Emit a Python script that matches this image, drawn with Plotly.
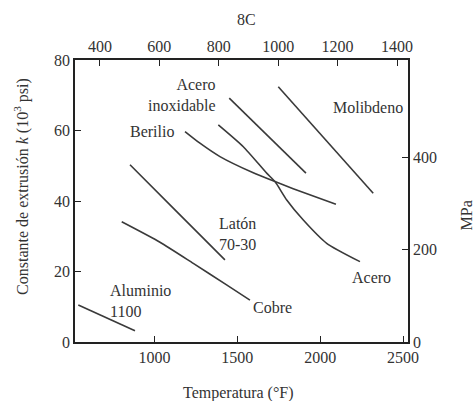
import plotly.graph_objects as go

# Temperature (°F) and extrusion constant k (10^3 psi)
al_t = [540, 882]
al_k = [10.5, 3.2]
cu_t = [802, 1033, 1234, 1435, 1576]
cu_k = [34.1, 28.3, 22.3, 16.2, 11.9]
br_t = [852, 1134, 1425]
br_k = [50.3, 37.0, 23.3]
be_t = [1184, 1274, 1395, 1596, 1727, 1837, 2095]
be_k = [59.7, 56.4, 52.6, 48.0, 45.5, 43.5, 39.1]
st_t = [1385, 1536, 1677, 1727, 1798, 1898, 2039, 2240]
st_k = [61.6, 55.4, 47.9, 45.5, 40.3, 34.6, 28.0, 22.8]
ss_t = [1451, 1914]
ss_k = [69.2, 47.9]
mo_t = [1747, 2320]
mo_k = [72.4, 42.2]

f_ticks = [1000, 1500, 2000, 2500]
c_ticks = [400, 600, 800, 1000, 1200, 1400]
k_ticks = [0, 20, 40, 60, 80]
mpa_ticks = [0, 200, 400]

FONT = "Liberation Serif"
LC = "#3a3a3a"
TC = "#333"

fig = go.Figure()
for xs, ys in [(al_t, al_k), (cu_t, cu_k), (br_t, br_k), (be_t, be_k),
               (st_t, st_k), (ss_t, ss_k), (mo_t, mo_k)]:
    fig.add_trace(go.Scatter(x=xs, y=ys, mode="lines",
                             line=dict(color=LC, width=1.6, shape="spline", smoothing=0.6),
                             showlegend=False, hoverinfo="skip"))

# invisible traces to activate secondary axes
fig.add_trace(go.Scatter(x=[c_ticks[0]], y=[k_ticks[0]], xaxis="x2", yaxis="y", mode="lines",
                         line=dict(width=0), showlegend=False, hoverinfo="skip"))
fig.add_trace(go.Scatter(x=[f_ticks[0]], y=[mpa_ticks[0]], xaxis="x", yaxis="y2", mode="lines",
                         line=dict(width=0), showlegend=False, hoverinfo="skip"))

axis_common = dict(showline=True, linecolor="#222", linewidth=1.5, ticks="inside", ticklen=6,
                   tickcolor="#222", tickwidth=1.3, showgrid=False, zeroline=False,
                   tickfont=dict(family=FONT, size=16, color=TC))

fig.update_layout(
    width=476, height=401,
    margin=dict(l=75, r=68, t=60, b=59),
    paper_bgcolor="white", plot_bgcolor="white",
    font=dict(family=FONT, size=16, color=TC),
    xaxis=dict(range=[520, 2530], tickvals=f_ticks, **axis_common),
    xaxis2=dict(range=[316, 1437], tickvals=c_ticks, overlaying="x", side="top", **axis_common),
    yaxis=dict(range=[0, 80], tickvals=k_ticks, **axis_common),
    yaxis2=dict(range=[0, 610], tickvals=mpa_ticks, overlaying="y", side="right", **axis_common),
)

labels = [
    ("Acero<br>inoxidable", 1383, 70.2, "right", "right"),
    ("Molibdeno", 2288, 66.4, "center", "center"),
    ("Berilio", 985, 59.6, "center", "center"),
    ("Latón<br>70-30", 1498, 30.6, "center", "center"),
    ("Aluminio<br>1100", 719, 11.6, "left", "left"),
    ("Cobre", 1715, 9.9, "center", "center"),
    ("Acero", 2312, 18.4, "center", "center"),
]
for text, x, y, xa, al in labels:
    fig.add_annotation(x=x, y=y, xref="x", yref="y", text=text, showarrow=False,
                       xanchor=xa, yanchor="middle", align=al,
                       font=dict(family=FONT, size=16, color=TC))

fig.add_annotation(x=0.516, y=1.145, xref="paper", yref="paper", text="8C", showarrow=False,
                   xanchor="center", yanchor="middle", font=dict(family=FONT, size=16, color=TC))
fig.add_annotation(x=0.49, y=-0.18, xref="paper", yref="paper", text="Temperatura (°F)", showarrow=False,
                   xanchor="center", yanchor="middle", font=dict(family=FONT, size=16, color=TC))
fig.add_annotation(x=-0.159, y=0.55, xref="paper", yref="paper",
                   text="Constante de extrusión <i>k</i> (10<sup>3</sup> psi)", showarrow=False, textangle=-90,
                   xanchor="center", yanchor="middle", font=dict(family=FONT, size=16, color=TC))
fig.add_annotation(x=1.175, y=0.45, xref="paper", yref="paper", text="MPa", showarrow=False, textangle=-90,
                   xanchor="center", yanchor="middle", font=dict(family=FONT, size=16, color=TC))

fig.write_html("out.html", config={"displayModeBar": False},
               post_script="document.body.style.margin='0';document.body.style.padding='0';")
